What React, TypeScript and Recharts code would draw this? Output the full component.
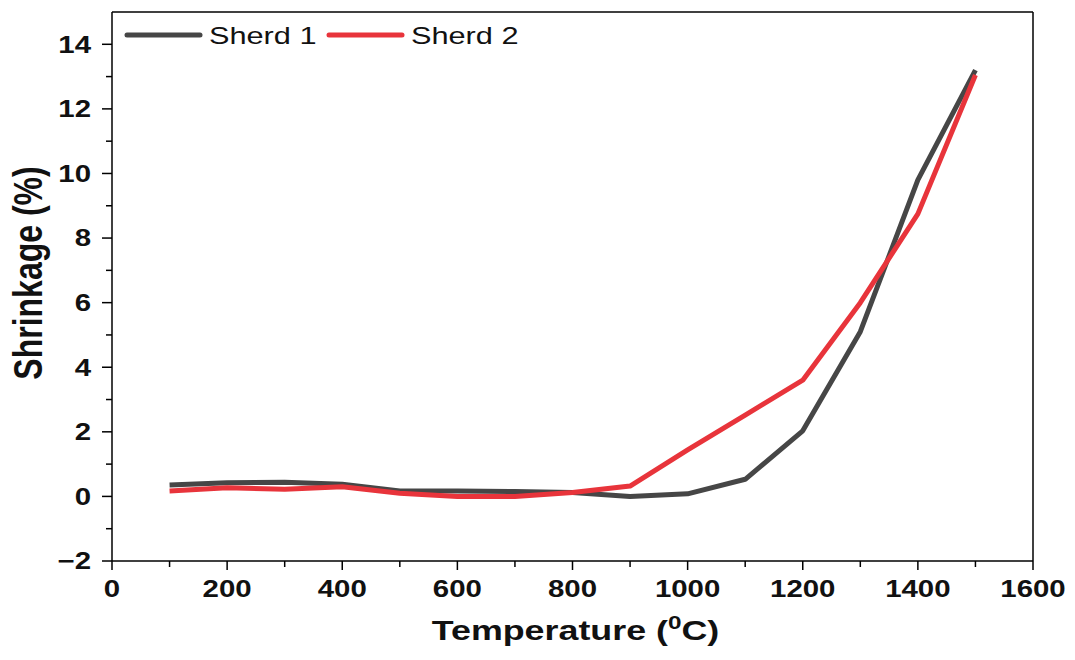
import { LineChart, Line, XAxis, YAxis, Legend, ReferenceLine } from 'recharts';

// temperature steps (°C)
const temperatures = [100, 200, 300, 400, 500, 600, 700, 800, 900, 1000, 1100, 1200, 1300, 1400, 1500];

// shrinkage (%)
const sherd1 = [0.35, 0.42, 0.44, 0.38, 0.17, 0.17, 0.15, 0.12, 0.0, 0.08, 0.53, 2.03, 5.1, 9.8, 13.2];
const sherd2 = [0.17, 0.27, 0.22, 0.3, 0.1, 0.0, 0.0, 0.12, 0.32, 1.44, 2.52, 3.6, 6.0, 8.75, 13.05];

const xTicks = [0, 100, 200, 300, 400, 500, 600, 700, 800, 900, 1000, 1100, 1200, 1300, 1400, 1500, 1600];
const yTicks = [-2, -1, 0, 1, 2, 3, 4, 5, 6, 7, 8, 9, 10, 11, 12, 13, 14];

const GREY = '#464646';
const RED = '#e8343b';
const FONT = '"Liberation Sans", Arial, Helvetica, sans-serif';
const SX = 1.28; // the figure's text is stretched sideways

const data = temperatures.map((t, i) => ({ temp: t, s1: sherd1[i], s2: sherd2[i] }));

// text with the same horizontal stretch as the source image
const WideText = ({ x, y, anchor = 'middle', size, bold = true, dy, children }: any) => (
  <text
    transform={`translate(${x}, ${y}) scale(${SX}, 1)`}
    dy={dy}
    textAnchor={anchor}
    fontFamily={FONT}
    fontWeight={bold ? 'bold' : 'normal'}
    fontSize={size}
    fill="#111"
  >
    {children}
  </text>
);

const XTick = ({ x, y, payload }: any) => {
  const major = payload.value % 200 === 0;
  return (
    <g>
      <line x1={x} x2={x} y1={y} y2={y + (major ? 9 : 6)} stroke="#000" strokeWidth={1.5} />
      {major && <WideText x={x} y={y + 36} size={23}>{payload.value}</WideText>}
    </g>
  );
};

const YTick = ({ x, y, payload }: any) => {
  const major = payload.value % 2 === 0;
  return (
    <g>
      <line x1={x} x2={x - (major ? 10 : 6)} y1={y} y2={y} stroke="#000" strokeWidth={1.5} />
      {major && (
        <WideText x={x - 21} y={y} dy="0.36em" anchor="end" size={23}>
          {payload.value < 0 ? '\u2212' + Math.abs(payload.value) : payload.value}
        </WideText>
      )}
    </g>
  );
};

const XTitle = ({ viewBox }: any) => {
  const cx = viewBox.x + viewBox.width / 2 + 3;
  return (
    <WideText x={cx} y={640} size={28}>
      Temperature (<tspan dy={-11} fontSize={19}>0</tspan><tspan dy={11}>C)</tspan>
    </WideText>
  );
};

const YTitle = () => (
  <text
    transform={`translate(42, 273) scale(${SX}, 1) rotate(-90)`}
    textAnchor="middle"
    fontFamily={FONT}
    fontWeight="bold"
    fontSize={32}
    fill="#111"
  >
    Shrinkage (%)
  </text>
);

const renderLegend = (props: any) => {
  const items = props.payload || [];
  return (
    <svg width={420} height={36} style={{ display: 'block' }}>
      {items.map((entry: any, i: number) => {
        const x0 = i * 202;
        return (
          <g key={entry.value}>
            <line x1={x0 + 5} x2={x0 + 78} y1={16} y2={16} stroke={entry.color} strokeWidth={5} strokeLinecap="round" />
            <WideText x={x0 + 87} y={24.5} anchor="start" size={24} bold={false}>
              {entry.value}
            </WideText>
          </g>
        );
      })}
    </svg>
  );
};

export default function App() {
  return (
    <div style={{ position: 'absolute', left: 0, top: 0, width: 1075, height: 660, background: '#fff' }}>
      <LineChart width={1075} height={660} data={data} margin={{ top: 12, right: 42, bottom: 0, left: 0 }}>
        <XAxis
          dataKey="temp"
          type="number"
          domain={[0, 1600]}
          ticks={xTicks}
          interval={0}
          height={99}
          tickSize={0}
          tickMargin={0}
          tickLine={false}
          axisLine={{ stroke: '#000', strokeWidth: 1.5 }}
          tick={<XTick />}
          label={<XTitle />}
        />
        <YAxis
          type="number"
          domain={[-2, 15]}
          ticks={yTicks}
          interval={0}
          width={112}
          tickSize={0}
          tickMargin={0}
          tickLine={false}
          axisLine={{ stroke: '#000', strokeWidth: 1.5 }}
          tick={<YTick />}
          label={<YTitle />}
        />
        <ReferenceLine y={15} stroke="#000" strokeWidth={1.5} />
        <ReferenceLine x={1600} stroke="#000" strokeWidth={1.5} />
        <Legend
          layout="horizontal"
          verticalAlign="middle"
          align="center"
          content={renderLegend}
          wrapperStyle={{ position: 'absolute', top: 19, left: 122, width: 'auto' }}
        />
        <Line
          name="Sherd 1"
          dataKey="s1"
          stroke={GREY}
          strokeWidth={5}
          dot={false}
          isAnimationActive={false}
          strokeLinejoin="round"
        />
        <Line
          name="Sherd 2"
          dataKey="s2"
          stroke={RED}
          strokeWidth={5}
          dot={false}
          isAnimationActive={false}
          strokeLinejoin="round"
        />
      </LineChart>
    </div>
  );
}
